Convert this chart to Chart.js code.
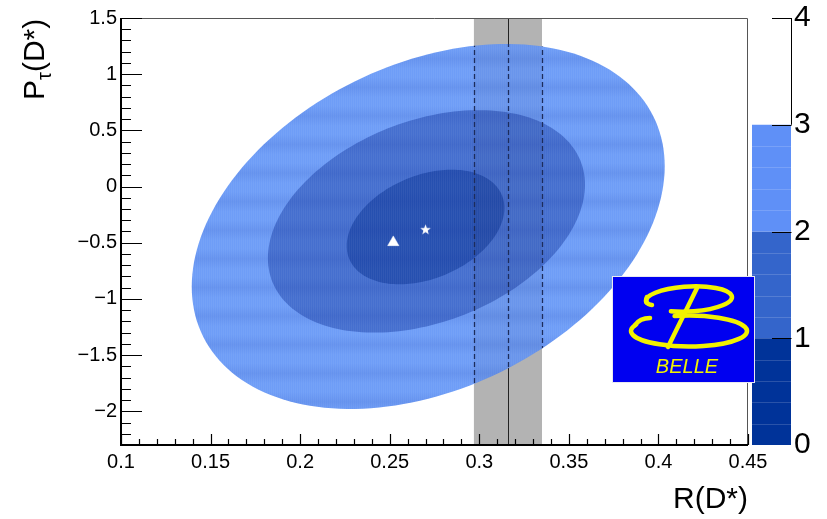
<!DOCTYPE html>
<html>
<head>
<meta charset="utf-8">
<script src="https://cdn.jsdelivr.net/npm/chart.js@4/dist/chart.umd.min.js"></script>
<style>
  html, body { margin: 0; padding: 0; background: #ffffff; }
  #wrap { width: 827px; height: 519px; }
</style>
</head>
<body>
<div id="wrap"><canvas id="c" width="827" height="519"></canvas></div>
<script>
// Axis tick labels
const xTicks = [0.1, 0.15, 0.2, 0.25, 0.3, 0.35, 0.4, 0.45];
const yTicks = [-2, -1.5, -1, -0.5, 0, 0.5, 1, 1.5];
const zTicks = [0, 1, 2, 3, 4];

// Belle measurement and Standard Model prediction (R(D*), P_tau(D*))
const belleMeasurement = [0.270, -0.38];
const smPrediction = [0.252, -0.497];

// Likelihood contours, outermost first: centre, half extents, correlation
const contourCentreX = [0.2715, 0.2705, 0.270];
const contourCentreY = [-0.355, -0.31, -0.36];
const contourHalfX = [0.132, 0.0885, 0.044];
const contourHalfY = [1.624, 0.99, 0.51];
const contourRho = [0.33, 0.33, 0.33];
const contourColours = ['#6e9df7', '#456fcf', '#2650b0'];

// World average of R(D*): central value and uncertainty
const worldAverage = [0.316, 0.019];

// Colour scale band edges and colours
const zBandEdges = [0, 1, 2, 3];
const zBandColours = ['#003399', '#3465cb', '#5f90f7'];

const FONT = "'Liberation Sans', Arial, Helvetica, sans-serif";

function fmt(v) {
  const s = String(Math.abs(Math.round(v * 1000) / 1000));
  return v < 0 ? '\u2212' + s : s;
}

// five-pointed star used as point marker
function makeStar(size) {
  const cv = document.createElement('canvas');
  cv.width = size; cv.height = size;
  const g = cv.getContext('2d');
  const c = size / 2, R = size / 2, r = R * 0.42;
  g.beginPath();
  for (let i = 0; i < 10; i++) {
    const a = -Math.PI / 2 + i * Math.PI / 5;
    const rr = i % 2 === 0 ? R : r;
    const px = c + rr * Math.cos(a), py = c + 0.5 + rr * Math.sin(a);
    i === 0 ? g.moveTo(px, py) : g.lineTo(px, py);
  }
  g.closePath();
  g.fillStyle = '#ffffff';
  g.fill();
  return cv;
}

function ellipsePath(ctx, xs, ys, i) {
  const rho = contourRho[i];
  const k = Math.sqrt(1 - rho * rho);
  ctx.beginPath();
  const N = 180;
  for (let j = 0; j <= N; j++) {
    const t = 2 * Math.PI * j / N;
    const u = Math.cos(t), v = Math.sin(t);
    const dx = contourHalfX[i] * u;
    const dy = contourHalfY[i] * (rho * u + k * v);
    const px = xs.getPixelForValue(contourCentreX[i] + dx);
    const py = ys.getPixelForValue(contourCentreY[i] + dy);
    j === 0 ? ctx.moveTo(px, py) : ctx.lineTo(px, py);
  }
  ctx.closePath();
}

const contourPlugin = {
  id: 'contours',
  beforeDatasetsDraw(chart) {
    const ctx = chart.ctx, a = chart.chartArea;
    const xs = chart.scales.x, ys = chart.scales.y;
    const lo = worldAverage[0] - worldAverage[1], hi = worldAverage[0] + worldAverage[1];
    const xl = xs.getPixelForValue(lo), xh = xs.getPixelForValue(hi), xc = xs.getPixelForValue(worldAverage[0]);
    ctx.save();
    ctx.beginPath(); ctx.rect(a.left, a.top, a.right - a.left, a.bottom - a.top); ctx.clip();
    // world average band
    ctx.fillStyle = '#b3b3b3';
    ctx.fillRect(xl, a.top, xh - xl, a.bottom - a.top);
    ctx.strokeStyle = '#222222'; ctx.lineWidth = 1;
    ctx.beginPath(); ctx.moveTo(Math.round(xc) + 0.5, a.top); ctx.lineTo(Math.round(xc) + 0.5, a.bottom); ctx.stroke();
    // nested contours
    contourColours.forEach((col, i) => {
      ellipsePath(ctx, xs, ys, i);
      ctx.fillStyle = col;
      ctx.fill();
    });
    ellipsePath(ctx, xs, ys, 0);
    ctx.clip();
    // raster texture of the filled contours: fine columns and broad rows
    ctx.fillStyle = 'rgba(255,255,255,0.05)';
    for (let x = Math.floor(a.left); x < a.right; x += 2) ctx.fillRect(x, a.top, 1, a.bottom - a.top);
    for (let yc = a.top - 16.5; yc < a.bottom + 30; yc += 28.6) {
      const g = ctx.createLinearGradient(0, yc - 10, 0, yc + 10);
      g.addColorStop(0, 'rgba(20,50,160,0)');
      g.addColorStop(0.5, 'rgba(20,50,160,0.10)');
      g.addColorStop(1, 'rgba(20,50,160,0)');
      ctx.fillStyle = g;
      ctx.fillRect(a.left, yc - 10, a.right - a.left, 20);
    }
    // band seen through the contours, edges and centre dashed
    ctx.fillStyle = 'rgba(40,40,60,0.06)';
    ctx.fillRect(xl, a.top, xh - xl, a.bottom - a.top);
    ctx.strokeStyle = '#1c2c5c'; ctx.lineWidth = 1.3; ctx.setLineDash([5, 3]);
    [xl, xc, xh].forEach(px => {
      ctx.beginPath(); ctx.moveTo(Math.round(px) + 0.5, a.top); ctx.lineTo(Math.round(px) + 0.5, a.bottom); ctx.stroke();
    });
    ctx.restore();
  },
  afterDatasetsDraw(chart) {
    const ctx = chart.ctx, a = chart.chartArea;
    const xs = chart.scales.x, ys = chart.scales.y;
    ctx.save();
    // frame
    ctx.lineWidth = 1;
    ctx.strokeStyle = '#555555';
    ctx.beginPath();
    ctx.moveTo(a.left, a.top + 0.5); ctx.lineTo(a.right - 0.5, a.top + 0.5); ctx.lineTo(a.right - 0.5, a.bottom);
    ctx.stroke();
    ctx.strokeStyle = '#000000';
    ctx.lineWidth = 2;
    ctx.beginPath();
    ctx.moveTo(a.left, a.top); ctx.lineTo(a.left, a.bottom); ctx.lineTo(a.right, a.bottom);
    ctx.stroke();
    // ticks pointing into the frame
    ctx.lineWidth = 1.2;
    ctx.beginPath();
    for (let i = 0; i <= 35; i++) {
      const v = 0.1 + i * 0.01;
      const px = Math.round(xs.getPixelForValue(v)) + 0.5;
      const len = i % 5 === 0 ? 11 : 6;
      ctx.moveTo(px, a.bottom); ctx.lineTo(px, a.bottom - len);
    }
    for (let i = 0; i <= 38; i++) {
      const v = -2.3 + i * 0.1;
      const py = Math.round(ys.getPixelForValue(v)) + 0.5;
      const major = Math.abs(Math.round(v * 2) - v * 2) < 1e-6;
      const len = major ? 21 : 10;
      ctx.moveTo(a.left, py); ctx.lineTo(a.left + len, py);
    }
    ctx.stroke();
    ctx.restore();
  },
  afterDraw(chart) {
    const ctx = chart.ctx, a = chart.chartArea;
    const zs = chart.scales.z;
    ctx.save();
    // colour scale
    const bx0 = 752, bx1 = 791;
    for (let i = 0; i < zBandEdges.length - 1; i++) {
      const yTop = zs.getPixelForValue(zBandEdges[i + 1]);
      const yBot = zs.getPixelForValue(zBandEdges[i]);
      ctx.fillStyle = zBandColours[i];
      ctx.fillRect(bx0, yTop, bx1 - bx0, yBot - yTop);
    }
    const top3 = zs.getPixelForValue(zBandEdges[zBandEdges.length - 1]);
    ctx.strokeStyle = 'rgba(255,255,255,0.16)'; ctx.lineWidth = 1;
    ctx.beginPath();
    for (let i = 1; i < 15; i++) {
      if (i % 5 === 0) continue;
      const py = Math.round(zs.getPixelForValue(i * 0.2)) + 0.5;
      ctx.moveTo(bx0, py); ctx.lineTo(bx1, py);
    }
    ctx.stroke();
    ctx.strokeStyle = '#000000'; ctx.lineWidth = 1;
    ctx.beginPath();
    ctx.moveTo(bx1 + 0.5, zs.getPixelForValue(4)); ctx.lineTo(bx1 + 0.5, top3);
    [4, 3, 2, 1].forEach(v => {
      const py = Math.round(zs.getPixelForValue(v)) + 0.5;
      ctx.moveTo(bx1 + 0.5, py); ctx.lineTo(772, py);
    });
    ctx.stroke();

    // axis titles
    ctx.fillStyle = '#000000';
    ctx.font = '30px ' + FONT;
    ctx.textAlign = 'right'; ctx.textBaseline = 'alphabetic';
    ctx.fillText('R(D*)', a.right, 508);
    ctx.save();
    ctx.translate(44, 100);
    ctx.rotate(-Math.PI / 2);
    ctx.textAlign = 'left';
    ctx.font = '30px ' + FONT;
    ctx.fillText('P', 0, 0);
    let w = ctx.measureText('P').width;
    ctx.font = '20px ' + FONT;
    ctx.fillText('\u03c4', w, 7);
    w += ctx.measureText('\u03c4').width;
    ctx.font = '30px ' + FONT;
    ctx.fillText('(D*)', w, 0);
    ctx.restore();

    // Belle logo
    const L = 613, T = 277, W = 141, H = 105;
    ctx.fillStyle = '#e8e8f0';
    ctx.fillRect(L - 1, T - 1, W + 2, H + 2);
    ctx.fillStyle = '#0000f0';
    ctx.fillRect(L, T, W, H);
    ctx.strokeStyle = '#f2f200'; ctx.lineWidth = 4.5; ctx.lineCap = 'round';
    ctx.beginPath();
    ctx.ellipse(689, 299, 43, 12.5, -0.05, Math.PI - 0.1, 2 * Math.PI + Math.PI / 2 + 0.45);
    ctx.stroke();
    ctx.beginPath();
    ctx.moveTo(647, 297); ctx.quadraticCurveTo(644, 304, 652, 305);
    ctx.stroke();
    ctx.beginPath();
    ctx.moveTo(697, 288); ctx.lineTo(668, 347);
    ctx.stroke();
    ctx.beginPath();
    ctx.ellipse(689, 331, 58, 15.5, 0, 1.42 * Math.PI, 3 * Math.PI + 0.42);
    ctx.stroke();
    ctx.beginPath();
    ctx.moveTo(635, 325); ctx.quadraticCurveTo(640, 318, 650, 318);
    ctx.stroke();
    ctx.fillStyle = '#f2f200';
    ctx.font = 'italic 20px ' + FONT;
    ctx.textAlign = 'center';
    ctx.fillText('BELLE', 687, 373);
    ctx.restore();
  }
};

const tickFont = { family: FONT, size: 20 };
function noPad(s) { s.paddingTop = 0; s.paddingBottom = 0; s.paddingLeft = 0; s.paddingRight = 0; }

new Chart(document.getElementById('c'), {
  type: 'scatter',
  data: {
    datasets: [
      {
        label: 'SM',
        data: [{ x: smPrediction[0], y: smPrediction[1] }],
        pointStyle: 'triangle',
        pointRadius: 6.5,
        backgroundColor: '#ffffff',
        borderColor: '#ffffff',
        borderWidth: 0.5
      },
      {
        label: 'Belle',
        data: [{ x: belleMeasurement[0], y: belleMeasurement[1] }],
        pointStyle: makeStar(11),
        pointRadius: 5.5
      }
    ]
  },
  options: {
    responsive: false,
    animation: false,
    devicePixelRatio: 1,
    layout: { padding: { top: 18, left: 0, right: 0, bottom: 0 } },
    plugins: { legend: { display: false }, tooltip: { enabled: false } },
    scales: {
      x: {
        type: 'linear', position: 'bottom', min: 0.1, max: 0.45,
        grid: { display: false, drawTicks: false },
        border: { display: false },
        ticks: { font: tickFont, color: '#000', padding: 5, maxRotation: 0, autoSkip: false, callback: v => fmt(v) },
        afterBuildTicks: s => { s.ticks = xTicks.map(v => ({ value: v })); },
        afterFit: s => { s.height = 74; noPad(s); }
      },
      y: {
        type: 'linear', position: 'left', min: -2.3, max: 1.5,
        grid: { display: false, drawTicks: false },
        border: { display: false },
        ticks: { font: tickFont, color: '#000', padding: 4, autoSkip: false, callback: v => fmt(v) },
        afterBuildTicks: s => { s.ticks = yTicks.map(v => ({ value: v })); },
        afterFit: s => { s.width = 121; noPad(s); }
      },
      z: {
        type: 'linear', position: 'right', min: 0, max: 4,
        grid: { display: false, drawTicks: false },
        border: { display: false },
        ticks: { font: { family: FONT, size: 30 }, color: '#000', padding: 46, autoSkip: false, callback: v => fmt(v) },
        afterBuildTicks: s => { s.ticks = zTicks.map(v => ({ value: v })); },
        afterFit: s => { s.width = 79; noPad(s); }
      }
    }
  },
  plugins: [contourPlugin]
});
</script>
</body>
</html>
